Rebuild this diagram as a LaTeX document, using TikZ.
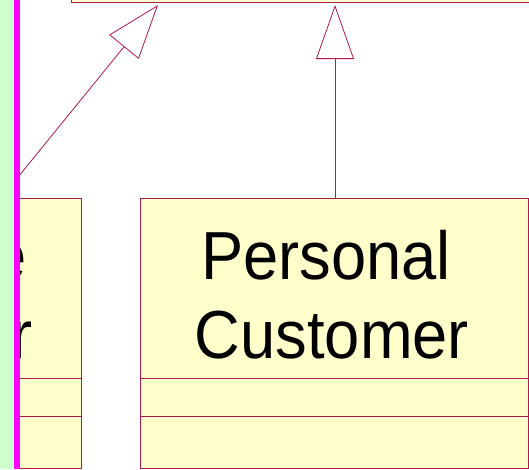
\documentclass[tikz,border=0pt]{standalone}
\usepackage{fontspec}
\setmainfont{Liberation Sans}
\usetikzlibrary{arrows.meta}
\definecolor{umlfill}{RGB}{255,255,204}
\definecolor{umlline}{RGB}{176,24,80}
\definecolor{stripgreen}{RGB}{204,255,204}
\definecolor{stripmagenta}{RGB}{255,0,255}
\newcommand{\narrowtext}[1]{\scalebox{0.93}[1]{#1}}
\tikzset{
  classbox/.style={draw=umlline, fill=umlfill, line width=1pt, inner sep=0pt, rectangle},
  compline/.style={draw=umlline, line width=1pt},
  gen/.style={draw=umlline, line width=0.8pt,
    -{Triangle[open, length=54pt, width=38pt, fill=white]}},
  classname/.style={font=\fontsize{68}{80}\selectfont, inner sep=0pt, anchor=base}
}
\begin{document}
\begin{tikzpicture}[x=1pt,y=-1pt]
\useasboundingbox (0,0) rectangle (529,469);
\clip (0,0) rectangle (529,469);
\fill[white] (0,0) rectangle (529,469);

% superclass box (only its lower edge shows)
\node[classbox, anchor=south west, minimum width=500pt, minimum height=80pt] (super) at (71,3) {};

% subclass on the left
\node[classbox, anchor=north east, minimum width=220pt, minimum height=270pt] (corp) at (82,198) {};
\draw[compline] (corp.west |- 0,378) -- (corp.east |- 0,378);
\draw[compline] (corp.west |- 0,416) -- (corp.east |- 0,416);
\node[classname, anchor=base east] (corpA) at (27,279) {\narrowtext{e}};
\node[classname, anchor=base east] (corpB) at (33,358) {\narrowtext{r}};

% subclass on the right
\node[classbox, anchor=north west, minimum width=388pt, minimum height=270pt] (personal) at (140,198) {};
\draw[compline] (personal.west |- 0,378) -- (personal.east |- 0,378);
\draw[compline] (personal.west |- 0,416) -- (personal.east |- 0,416);
\node[classname] (pA) at (326,279) {\narrowtext{Personal}};
\node[classname] (pB) at (332,358) {\narrowtext{Customer}};

% generalisation arrows
\coordinate (g1) at (158,5);
\coordinate (g2) at (335,5);
\coordinate (c1) at (1,198);
\draw[gen] (c1) -- (g1);
\draw[gen] (personal.north -| g2) -- (g2);

% coloured strip along the left edge
\fill[stripgreen] (0,0) rectangle (14,469);
\fill[stripmagenta] (14,0) rectangle (20,469);
\end{tikzpicture}
\end{document}
